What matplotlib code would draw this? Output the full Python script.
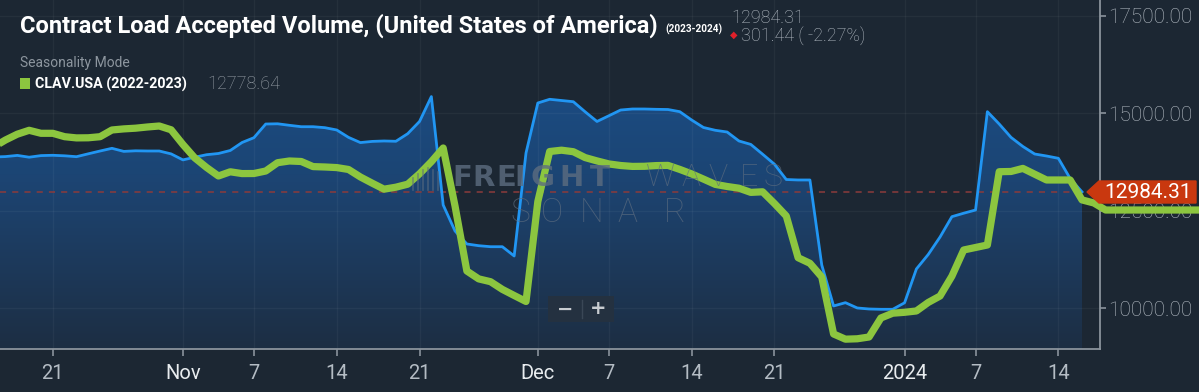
import matplotlib
matplotlib.use("Agg")
import matplotlib.pyplot as plt
import matplotlib.dates as mdates
import numpy as np
import pandas as pd
from matplotlib.patches import Polygon, Rectangle
from matplotlib.colors import LinearSegmentedColormap

# ---------------- data ----------------
blue_start = "2023-10-16"
blue_values = [13879, 13890, 13920, 13874, 13915, 13923, 13910, 13887, 13961, 14033,
               14102, 14023, 14038, 14033, 14033, 13959, 13805, 13874, 13938, 13969,
               14046, 14251, 14374, 14725, 14731, 14692, 14656, 14656, 14631, 14572,
               14382, 14249, 14279, 14290, 14282, 14477, 14790, 15428, 12649, 11982,
               11649, 11605, 11579, 11579, 11341, 13982, 15264, 15359, 15328, 15297,
               15038, 14790, 14936, 15084, 15110, 15110, 15102, 15097, 15041, 14828,
               14636, 14564, 14520, 14290, 14202, 13951, 13695, 13302, 13290, 13290,
               11110, 10059, 10144, 10008, 9982, 9974, 9974, 10141, 11008, 11379,
               11828, 12349, 12438, 12520, 15041, 14725, 14382, 14149, 13956, 13905,
               13846, 13326, 12984.31]
green_start = "2023-10-16"
green_values = [14136, 14315, 14464, 14564, 14487, 14487, 14400, 14369, 14372, 14400,
                14572, 14600, 14618, 14649, 14674, 14577, 14200, 13856, 13610, 13392,
                13500, 13454, 13456, 13520, 13733, 13777, 13764, 13633, 13623, 13608,
                13559, 13367, 13208, 13054, 13105, 13182, 13449, 13759, 14110, 12623,
                10956, 10754, 10682, 10485, 10328, 10174, 12738, 14020, 14054, 14015,
                13864, 13779, 13702, 13661, 13638, 13641, 13659, 13664, 13561, 13446,
                13313, 13177, 13123, 13079, 12972, 12987, 12687, 12367, 11297, 11154,
                10803, 9341, 9208, 9218, 9264, 9751, 9874, 9897, 9931, 10149,
                10315, 10823, 11495, 11559, 11623, 13502, 13508, 13587, 13438, 13290,
                13290, 13290, 12778.64, 12700, 12520, 12520, 12520, 12520, 12520, 12520,
                12520, 12520, 12520]

x_tick_dates = ["2023-10-21", "2023-11-01", "2023-11-07", "2023-11-14", "2023-11-21",
                "2023-12-01", "2023-12-07", "2023-12-14", "2023-12-21", "2024-01-01",
                "2024-01-07", "2024-01-14"]
x_tick_labels = ["21", "Nov", "7", "14", "21", "Dec", "7", "14", "21", "2024", "7", "14"]
y_ticks = [10000, 12500, 15000, 17500]
y_tick_labels = ["10000.00", "12500.00", "15000.00", "17500.00"]

title = "Contract Load Accepted Volume, (United States of America)"
title_period = "(2023-2024)"
last_value = 12984.31
change_text = "301.44 ( -2.27%)"
legend_label = "CLAV.USA (2022-2023)"
legend_value = "12778.64"
mode_text = "Seasonality Mode"

# ---------------- style ----------------
W, H = 1199, 392
BG = "#1c2733"
BLUE = "#2196f3"
GREEN = "#8cc63f"
AXIS = "#8a939c"
LABEL = "#b4bcc4"
RED = "#c9380f"
WM = "#5d6d80"

def fx(x):
    return x / W

def fy(y):
    return 1 - y / H

fig = plt.figure(figsize=(W / 100, H / 100), dpi=100, facecolor=BG)
ax = fig.add_axes([0, fy(349), fx(1100), 349 / H])
ax.set_facecolor(BG)
renderer = fig.canvas.get_renderer()

def fit_text(t, width):
    w = t.get_window_extent(renderer).width
    t.set_fontsize(t.get_fontsize() * width / w)

bdates = pd.date_range(blue_start, periods=len(blue_values), freq="D")
gdates = pd.date_range(green_start, periods=len(green_values), freq="D")
bx = mdates.date2num(bdates.to_pydatetime())
gx = mdates.date2num(gdates.to_pydatetime())

ref = mdates.date2num(pd.Timestamp("2023-10-21").to_pydatetime())
XL = (ref - 4.463, ref + 88.52)
YL = (8956, 17905)

# gradient fill under blue line
fill = ax.fill_between(bx, blue_values, YL[0], color="none", lw=0)
cmap = LinearSegmentedColormap.from_list("g", ["#1d2e43", "#1c4574", "#1a5290"])
grad = np.linspace(0, 1, 256).reshape(-1, 1)
im = ax.imshow(grad, extent=[bx[0], bx[-1], YL[0], YL[1]], origin="lower",
               aspect="auto", cmap=cmap, zorder=1)
im.set_clip_path(fill.get_paths()[0], transform=ax.transData)
ax.set_xlim(*XL)
ax.set_ylim(*YL)

# grid
for d in x_tick_dates:
    ax.axvline(mdates.date2num(pd.Timestamp(d).to_pydatetime()), color="white",
               alpha=0.045, lw=1, zorder=1.5)
for v in y_ticks:
    ax.axhline(v, color="white", alpha=0.045, lw=1, zorder=1.5)

# dashed last value line
ax.axhline(last_value, color="#8c3b3b", lw=1.1, ls=(0, (4, 4)), zorder=2)

# watermark
wm_kw = dict(color=WM, ha="center", va="center", zorder=2)
for ch, xc in zip("FREIGHT", [462, 484, 506, 520, 542, 572, 600]):
    fig.text(fx(xc), fy(178), ch, fontsize=21, family="DejaVu Sans",
             fontweight="heavy", alpha=0.8, **wm_kw)
for ch, xc in zip("WAVES", [660, 691, 718, 749, 773]):
    fig.text(fx(xc), fy(178), ch, fontsize=23, family="Roboto",
             fontweight="light", alpha=0.7, **wm_kw)
for ch, xc in zip("SONAR", [520, 552, 592, 627, 675]):
    fig.text(fx(xc), fy(213), ch, fontsize=24, family="Roboto",
             fontweight="light", alpha=0.7, **wm_kw)
for i, h in enumerate([12, 16, 20, 22, 20, 18]):
    fig.add_artist(plt.Line2D([fx(413 + i * 5)] * 2, [fy(190), fy(190 - h)],
                              color=WM, alpha=0.6, lw=1.2,
                              transform=fig.transFigure, zorder=2))

# lines
ax.plot(bx, blue_values, color=BLUE, lw=2.0, zorder=3, solid_joinstyle="round")
ax.plot(gx, green_values, color=GREEN, lw=5.2, zorder=4, solid_joinstyle="round",
        solid_capstyle="butt", clip_on=False)

# axes styling
for s in ["top", "left"]:
    ax.spines[s].set_visible(False)
for s in ["bottom", "right"]:
    ax.spines[s].set_color(AXIS)
    ax.spines[s].set_linewidth(1.3)

ax.set_xticks([mdates.date2num(pd.Timestamp(d).to_pydatetime()) for d in x_tick_dates])
ax.set_xticklabels(x_tick_labels)
ax.tick_params(axis="x", length=5, width=1.2, color=AXIS, pad=6, labelsize=14.5)
for lbl, t in zip(ax.get_xticklabels(), x_tick_labels):
    lbl.set_fontfamily("Roboto")
    lbl.set_color("#e8ecef" if (not t.isdigit() or len(t) == 4) else LABEL)
ax.yaxis.tick_right()
ax.set_yticks(y_ticks)
ax.set_yticklabels(y_tick_labels)
ax.tick_params(axis="y", length=4, width=1.2, color=AXIS, pad=2,
               labelsize=15, labelcolor=LABEL)
for lbl in ax.get_yticklabels():
    lbl.set_fontfamily("Roboto")
    lbl.set_fontweight("light")

# last value label
lab = Polygon([[fx(1087), fy(192)], [fx(1099), fy(181)], [fx(1196), fy(181)],
               [fx(1196), fy(203)], [fx(1099), fy(203)]], closed=True,
              transform=fig.transFigure, facecolor=RED, edgecolor=RED, zorder=10)
fig.patches.append(lab)
fig.text(fx(1148), fy(192), f"{last_value:.2f}", color="white", fontsize=15,
         family="Roboto", ha="center", va="center", zorder=11)

# zoom buttons
btn = Rectangle((fx(548), fy(322)), fx(66), 26 / H, transform=fig.transFigure,
                facecolor="#243140", edgecolor="none", zorder=9)
fig.patches.append(btn)
fig.add_artist(plt.Line2D([fx(582), fx(582)], [fy(318), fy(300)], color="#3a4756",
                          lw=1, transform=fig.transFigure, zorder=10))
fig.text(fx(565), fy(309), "\u2212", color="#c8ccd0", fontsize=14, fontweight="bold",
         ha="center", va="center", zorder=11)
fig.text(fx(598), fy(309), "+", color="#c8ccd0", fontsize=14, fontweight="bold",
         ha="center", va="center", zorder=11)

# title block
t1 = fig.text(fx(20), fy(33), title, color="white", fontsize=18,
              family="Roboto", fontweight="bold", ha="left", va="baseline")
fit_text(t1, 640)
t2 = fig.text(fx(665), fy(33), title_period, color="white", fontsize=8,
              family="Roboto", fontweight="bold", ha="left", va="baseline")
fit_text(t2, 57)
fig.text(fx(731), fy(23), f"{last_value:.2f}", color=LABEL, fontsize=13,
         family="Roboto", fontweight="light", ha="left", va="baseline")
fig.text(fx(734), fy(35), "\u25c6", color="#e0202a", fontsize=7,
         ha="center", va="center")
fig.text(fx(741), fy(41), change_text, color=LABEL, fontsize=13,
         family="Roboto", fontweight="light", ha="left", va="baseline")
fig.text(fx(20), fy(67), mode_text, color="#8d969f", fontsize=10,
         family="Roboto", ha="left", va="baseline")
sq = Rectangle((fx(20), fy(89)), fx(10), 11 / H, transform=fig.transFigure,
               facecolor=GREEN, edgecolor="none")
fig.patches.append(sq)
t3 = fig.text(fx(35), fy(89), legend_label, color="white", fontsize=11,
              family="Roboto", fontweight="bold", ha="left", va="baseline")
fit_text(t3, 152)
fig.text(fx(207), fy(89), legend_value, color="#9aa2aa", fontsize=13,
         family="Roboto", fontweight="light", ha="left", va="baseline")

fig.savefig("out.png", dpi=100, facecolor=BG)
